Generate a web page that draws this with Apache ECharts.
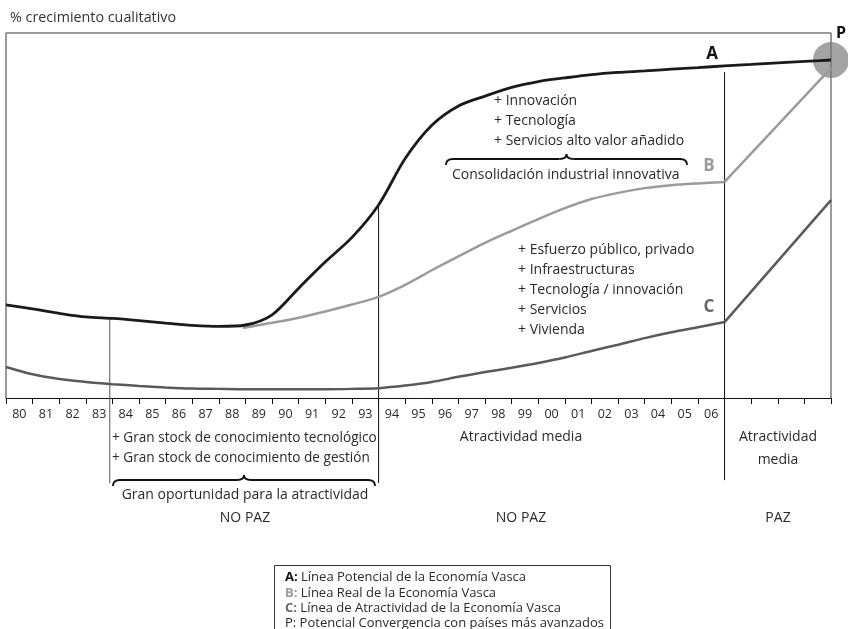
<!DOCTYPE html>
<html>
<head>
<meta charset="utf-8">
<script src="https://cdn.jsdelivr.net/npm/echarts@6/dist/echarts.min.js"></script>
<style>
  html, body { margin: 0; padding: 0; background: #fff; }
  #main { width: 848px; height: 629px; }
</style>
</head>
<body>
<div id="main"></div>
<script>
  // years on the axis, then 4 empty bands for the "paz" part
  var years = ['80', '81', '82', '83', '84', '85', '86', '87', '88', '89', '90', '91', '92', '93',
    '94', '95', '96', '97', '98', '99', '00', '01', '02', '03', '04', '05', '06', '', '', '', ''];

  // A: linea potencial (x = band boundary index, y = % crecimiento)
  var lineA = [[0, 25.5], [1, 24.4], [2, 23.2], [3, 22.2], [4, 21.8], [5, 21.2], [6, 20.5], [7, 19.9],
    [8, 19.6], [9, 20.0], [10, 22.8], [11, 30.1], [12, 37.3], [13, 44.0], [14, 52.9], [15, 65.6],
    [16, 74.7], [17, 80.0], [18, 82.7], [19, 85.1], [20, 86.7], [21, 87.7], [22, 88.6], [23, 89.2],
    [24, 89.6], [25, 90.1], [26, 90.5], [27, 91.0], [28, 91.4], [29, 91.8], [30, 92.2], [31, 92.6]];
  // B: linea real
  var lineB = [[8.9, 19.2], [10, 20.6], [11, 22.0], [12, 23.7], [13, 25.6], [14, 27.7], [15, 31.0],
    [16, 35.0], [17, 38.8], [18, 42.5], [19, 45.8], [20, 49.0], [21, 52.0], [22, 54.5], [23, 56.2],
    [24, 57.5], [25, 58.3], [26, 58.8], [27, 59.2]];
  var lineBPaz = [[27, 59.2], [31, 90.4]];
  // C: linea de atractividad
  var lineC = [[0, 8.5], [1, 6.5], [2, 5.2], [3, 4.4], [4, 3.8], [5, 3.3], [6, 2.9], [7, 2.6],
    [8, 2.5], [9, 2.4], [10, 2.4], [11, 2.4], [12, 2.4], [13, 2.5], [14, 2.7], [15, 3.4], [16, 4.4],
    [17, 5.8], [18, 7.1], [19, 8.3], [20, 9.6], [21, 11.1], [22, 12.9], [23, 14.6], [24, 16.4],
    [25, 18.0], [26, 19.4], [27, 20.8]];
  var lineCPaz = [[27, 20.8], [31, 54.2]];
  // P: convergencia
  var pointP = [[31, 92.6]];
  // frame and period dividers (they run below the axis, down to the notes)
  var frame = [[0, 0], [0, 100], [31, 100], [31, 0]];
  var divider84 = [[3.9, 21.8], [3.9, -23.3]];
  var divider94 = [[14, 52.9], [14, -23.3]];
  var divider07 = [[27, 89.3], [27, -22.5]];

  var FONT = '"Open Sans", sans-serif';
  function txt(s, x, y, opts) {
    opts = opts || {};
    return {
      type: 'text', z: 10,
      style: {
        text: s, x: x, y: y,
        fill: opts.fill || '#2a2a2a',
        font: (opts.weight || 'normal') + ' ' + (opts.size || 14) + 'px ' + FONT,
        align: opts.align || 'left', verticalAlign: 'middle'
      }
    };
  }
  // curly brace lying flat, tip pointing up in the middle
  function brace(x0, x1, y) {
    var m = (x0 + x1) / 2;
    var st = { stroke: '#111', lineWidth: 1.8, fill: null };
    function q(ax, ay, bx, by, cx, cy) {
      return { type: 'bezierCurve', z: 10, shape: { x1: ax, y1: ay, x2: bx, y2: by, cpx1: cx, cpy1: cy }, style: st };
    }
    function l(ax, ay, bx, by) {
      return { type: 'line', z: 10, shape: { x1: ax, y1: ay, x2: bx, y2: by }, style: st };
    }
    return {
      type: 'group',
      children: [
        q(x0, y + 6, x0 + 7, y, x0, y),
        l(x0 + 7, y, m - 7, y),
        q(m - 7, y, m, y - 5, m, y),
        q(m, y - 5, m + 7, y, m, y),
        l(m + 7, y, x1 - 7, y),
        q(x1 - 7, y, x1, y + 6, x1, y)
      ]
    };
  }

  function lineSeries(data, color, width, smooth) {
    return {
      type: 'line', xAxisIndex: 1, data: data, smooth: smooth,
      showSymbol: false, symbol: 'none', silent: true, clip: false,
      lineStyle: { color: color, width: width }
    };
  }

  var chart = echarts.init(document.getElementById('main'));
  chart.setOption({
    animation: false,
    grid: { left: 6, right: 17, top: 33, bottom: 231 },
    xAxis: [{
      type: 'category', data: years, boundaryGap: true,
      axisLine: { lineStyle: { color: '#111', width: 1 } },
      axisTick: { show: true, length: 6, interval: 0, lineStyle: { color: '#111' } },
      axisLabel: { interval: 0, margin: 10, color: '#2a2a2a', fontSize: 12.5, fontFamily: FONT },
      splitLine: { show: false }
    }, {
      type: 'value', min: 0, max: 31, show: false
    }],
    yAxis: { type: 'value', min: 0, max: 100, show: false },
    series: [
      {
        type: 'scatter', xAxisIndex: 1, data: pointP, symbolSize: 36, silent: true, clip: false,
        itemStyle: { color: '#9a9a9a', opacity: 0.9 }
      },
      lineSeries(frame, '#7a7a7a', 1.5, false),
      lineSeries(divider84, '#555', 1, false),
      lineSeries(divider94, '#111', 1, false),
      lineSeries(divider07, '#111', 1, false),
      lineSeries(lineC, '#5a5a5a', 2.5, 0.3),
      lineSeries(lineCPaz, '#5a5a5a', 2.5, false),
      lineSeries(lineB, '#9b9b9b', 2.5, 0.3),
      lineSeries(lineBPaz, '#9b9b9b', 2.5, false),
      lineSeries(lineA, '#1a1a1a', 2.8, 0.3)
    ],
    graphic: [
      txt('% crecimiento cualitativo', 10, 18, { fill: '#333', size: 14.3 }),
      txt('P', 836, 33, { weight: 'bold', size: 16, fill: '#111' }),
      txt('A', 712, 54, { weight: 'bold', size: 17, fill: '#111', align: 'center' }),
      txt('B', 709, 166, { weight: 'bold', size: 17, fill: '#9b9b9b', align: 'center' }),
      txt('C', 709, 307, { weight: 'bold', size: 17, fill: '#666', align: 'center' }),
      txt('+ Innovación', 494, 101),
      txt('+ Tecnología', 494, 121),
      txt('+ Servicios alto valor añadido', 494, 141),
      brace(446, 687, 159),
      txt('Consolidación industrial innovativa', 452, 175),
      txt('+ Esfuerzo público, privado', 518, 250),
      txt('+ Infraestructuras', 518, 270),
      txt('+ Tecnología / innovación', 518, 290),
      txt('+ Servicios', 518, 310),
      txt('+ Vivienda', 518, 330),
      txt('+ Gran stock de conocimiento tecnológico', 112, 438, { size: 13.6 }),
      txt('+ Gran stock de conocimiento de gestión', 112, 458, { size: 13.6 }),
      brace(113, 375, 480),
      txt('Gran oportunidad para la atractividad', 245, 495, { align: 'center' }),
      txt('NO PAZ', 245, 518, { align: 'center' }),
      txt('Atractividad media', 521, 437, { align: 'center' }),
      txt('NO PAZ', 521, 518, { align: 'center' }),
      txt('Atractividad', 778, 437, { align: 'center' }),
      txt('media', 778, 460, { align: 'center' }),
      txt('PAZ', 778, 518, { align: 'center' }),
      {
        type: 'rect', z: 5,
        shape: { x: 274.5, y: 565.5, width: 336, height: 80 },
        style: { stroke: '#333', lineWidth: 1, fill: '#fff' }
      },
      {
        type: 'text', z: 10,
        style: {
          x: 285, y: 570, lineHeight: 15.3,
          text: '{a|A:} Línea Potencial de la Economía Vasca\n{b|B:} Línea Real de la Economía Vasca\n{c|C:} Línea de Atractividad de la Economía Vasca\nP: Potencial Convergencia con países más avanzados',
          font: '13px ' + FONT, fill: '#2a2a2a',
          rich: {
            a: { fontWeight: 'bold', fill: '#111', fontSize: 13, fontFamily: FONT },
            b: { fontWeight: 'bold', fill: '#9b9b9b', fontSize: 13, fontFamily: FONT },
            c: { fontWeight: 'bold', fill: '#666', fontSize: 13, fontFamily: FONT }
          }
        }
      }
    ]
  });
</script>
</body>
</html>
